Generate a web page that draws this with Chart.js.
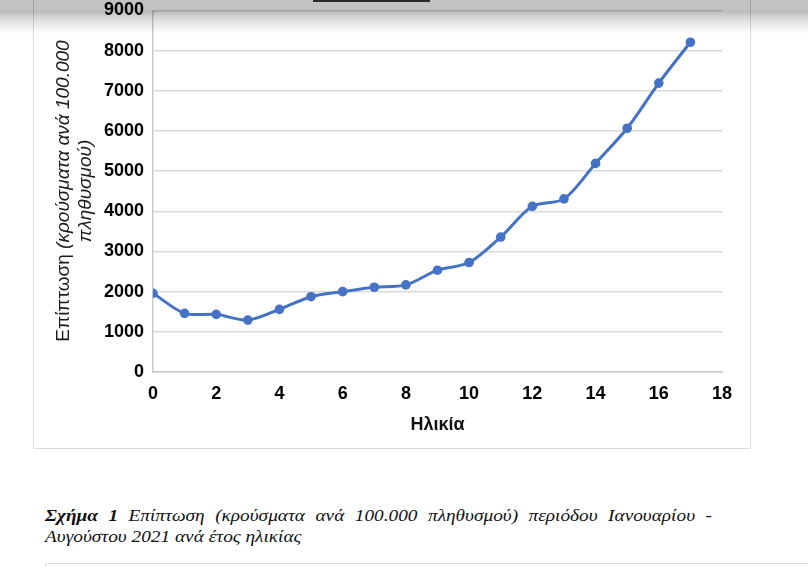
<!DOCTYPE html>
<html>
<head>
<meta charset="utf-8">
<script src="https://cdn.jsdelivr.net/npm/chart.js@4.4.0/dist/chart.umd.min.js"></script>
<style>
  html, body { margin: 0; padding: 0; background: #fff; }
  body { width: 808px; height: 567px; position: relative; overflow: hidden; }
  #frame {
    position: absolute; left: 33px; top: -5px; width: 716px; height: 453px;
    border-left: 1.5px solid #dadada; border-right: 1.5px solid #dadada; border-bottom: 1.5px solid #dadada;
  }
  #chartBox { position: absolute; left: 33px; top: 0; width: 717px; height: 449px; }
  #shade {
    position: absolute; left: 0; top: 0; width: 808px; height: 36px; pointer-events: none;
    background: linear-gradient(to bottom, rgba(0,0,0,0.24) 0px, rgba(0,0,0,0.24) 10px,
      rgba(0,0,0,0.27) 11px, rgba(0,0,0,0.12) 20px, rgba(0,0,0,0) 34px);
  }
  #notch { position: absolute; left: 313px; top: 0; width: 117px; height: 2px; background: #2b2b2b; }
  .cap { position: absolute; left: 45px; font-family: "Liberation Serif", "Times New Roman", serif;
    font-style: italic; font-size: 16.5px; line-height: 19px; color: #111; white-space: nowrap;
    transform-origin: 0 0; transform: scaleX(1.17); }
  #cap1 { top: 506px; width: 570px; text-align: justify; text-align-last: justify; white-space: normal; }
  #cap2 { top: 527px; }
  #lowerBox { position: absolute; left: 45px; top: 563px; width: 780px; height: 30px;
    border-top: 1.5px solid #dedede; border-left: 1.5px solid #dedede; }
</style>
</head>
<body>
<div id="frame"></div>
<div id="chartBox"><canvas id="incidenceChart"></canvas></div>
<div id="shade"></div>
<div id="notch"></div>
<div class="cap" id="cap1"><b>Σχήμα 1</b> Επίπτωση (κρούσματα ανά 100.000 πληθυσμού) περιόδου Ιανουαρίου -</div>
<div class="cap" id="cap2">Αυγούστου 2021 ανά έτος ηλικίας</div>
<div id="lowerBox"></div>
<script>
// age in years
const ages = [0, 1, 2, 3, 4, 5, 6, 7, 8, 9, 10, 11, 12, 13, 14, 15, 16, 17];
// cases per 100.000 population
const incidence = [1960, 1460, 1435, 1292, 1560, 1875, 2000, 2110, 2168, 2535,
                   2725, 3360, 4125, 4310, 5193, 6068, 7193, 8210];
const xTicks = [0, 2, 4, 6, 8, 10, 12, 14, 16, 18];
const yTicks = [0, 1000, 2000, 3000, 4000, 5000, 6000, 7000, 8000, 9000];

const xTitle = "Ηλικία";
const yTitleMain = "Επίπτωση ";
const yTitleItalic = "(κρούσματα ανά 100.000";
const yTitleLine2 = "πληθυσμού)";

const lineBlue = '#4472C4';
const gridGray = '#d9d9d9';

// y title: first word upright, the rest italic, so drawn by hand
const yTitlePlugin = {
    id: 'yTitle',
    afterDraw(chart) {
        let ctx = chart.ctx;
        let fam = '"Liberation Sans", Arial, sans-serif';
        ctx.save();
        ctx.fillStyle = '#1a1a1a';
        ctx.textBaseline = 'alphabetic';
        ctx.textAlign = 'left';
        ctx.translate(36, 191);
        ctx.rotate(-Math.PI / 2);

        ctx.font = '19px ' + fam;
        let w1 = ctx.measureText(yTitleMain).width;
        ctx.font = 'italic 19px ' + fam;
        let w2 = ctx.measureText(yTitleItalic).width;
        let start = -(w1 + w2) / 2;
        ctx.font = '19px ' + fam;
        ctx.fillText(yTitleMain, start, 0);
        ctx.font = 'italic 19px ' + fam;
        ctx.fillText(yTitleItalic, start + w1, 0);

        let w3 = ctx.measureText(yTitleLine2).width;
        ctx.fillText(yTitleLine2, -w3 / 2, 21.5);
        ctx.restore();
    }
};

function setupChart() {
    let ctx = document.getElementById('incidenceChart').getContext('2d');
    let tickFont = { family: '"Liberation Sans", Arial, sans-serif', size: 18, weight: 'bold' };

    new Chart(ctx, {
        type: 'line',
        data: {
            datasets: [{
                label: 'Επίπτωση',
                data: ages.map((a, i) => ({ x: a, y: incidence[i] })),
                borderColor: lineBlue,
                backgroundColor: lineBlue,
                borderWidth: 3,
                pointRadius: 4.8,
                pointHoverRadius: 4.8,
                pointBorderWidth: 0,
                tension: 0.3,
                fill: false
            }]
        },
        plugins: [yTitlePlugin],
        options: {
            responsive: true,
            maintainAspectRatio: false,
            animation: false,
            events: [],
            layout: { padding: { top: 0, right: 28, left: 0, bottom: 0 } },
            plugins: {
                legend: { display: false },
                tooltip: { enabled: false }
            },
            scales: {
                x: {
                    type: 'linear',
                    min: 0,
                    max: 18,
                    afterBuildTicks: (scale) => { scale.ticks = xTicks.map(v => ({ value: v })); },
                    afterFit: (scale) => { scale.height = 77; },
                    grid: { display: false, drawTicks: false },
                    border: { display: true, color: '#c8c8c8', width: 1.5 },
                    ticks: { color: '#000', font: tickFont, padding: 11, maxRotation: 0,
                             callback: (v) => String(v) },
                    title: {
                        display: true,
                        text: xTitle,
                        color: '#111',
                        font: { family: '"Liberation Sans", Arial, sans-serif', size: 18, weight: 'bold' },
                        padding: { top: 0, bottom: 13 }
                    }
                },
                y: {
                    min: 0,
                    max: 9000,
                    afterBuildTicks: (scale) => { scale.ticks = yTicks.map(v => ({ value: v })); },
                    afterFit: (scale) => {
                        scale.width = 120;
                        // keep the 9000 line near the top edge, as in the picture
                        scale.paddingTop = 10.5;
                    },
                    grid: { color: gridGray, lineWidth: 1.5, drawTicks: false },
                    border: { display: true, color: '#c8c8c8', width: 1.5 },
                    ticks: { color: '#000', font: tickFont, padding: 9,
                             callback: (v) => String(v) }
                }
            }
        }
    });
}

setupChart();
</script>
</body>
</html>
